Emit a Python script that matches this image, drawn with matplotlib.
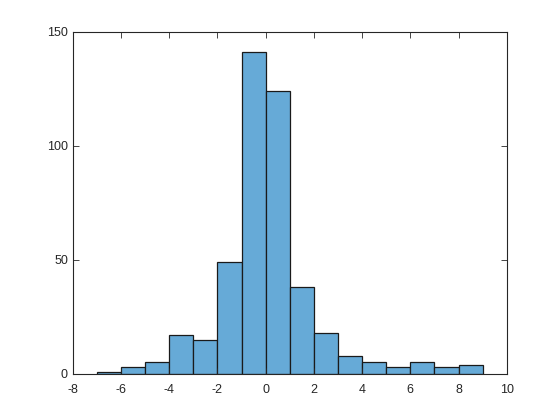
import matplotlib
matplotlib.use("Agg")
import matplotlib.pyplot as plt

bin_edges = [-7, -6, -5, -4, -3, -2, -1, 0, 1, 2, 3, 4, 5, 6, 7, 8, 9]
counts = [1, 3, 5, 17, 15, 49, 141, 124, 38, 18, 8, 5, 3, 5, 3, 4]
xticks = [-8, -6, -4, -2, 0, 2, 4, 6, 8, 10]
yticks = [0, 50, 100, 150]

plt.rcParams['font.family'] = ['Liberation Sans', 'DejaVu Sans']
fig = plt.figure(figsize=(5.6, 4.2), dpi=100)
ax = fig.add_axes([0.13, 0.11, 0.775, 0.815])

lefts = bin_edges[:-1]
widths = [b - a for a, b in zip(bin_edges[:-1], bin_edges[1:])]
ax.bar(lefts, counts, width=widths, align='edge', facecolor='#66aad7',
       edgecolor='#1a1a1a', linewidth=0.9)

ax.set_xlim(-8, 10)
ax.set_ylim(0, 150)
ax.set_xticks(xticks)
ax.set_xticklabels([str(t) for t in xticks])
ax.set_yticks(yticks)
ax.set_yticklabels([str(t) for t in yticks])
ax.tick_params(direction='in', top=True, right=True, length=4, width=0.6,
               color='#262626', labelsize=9, labelcolor='#262626')
ax.tick_params(axis='x', pad=7)
for s in ax.spines.values():
    s.set_color('#262626')
    s.set_linewidth(0.8)

fig.savefig('out.png', dpi=100, facecolor='white')
